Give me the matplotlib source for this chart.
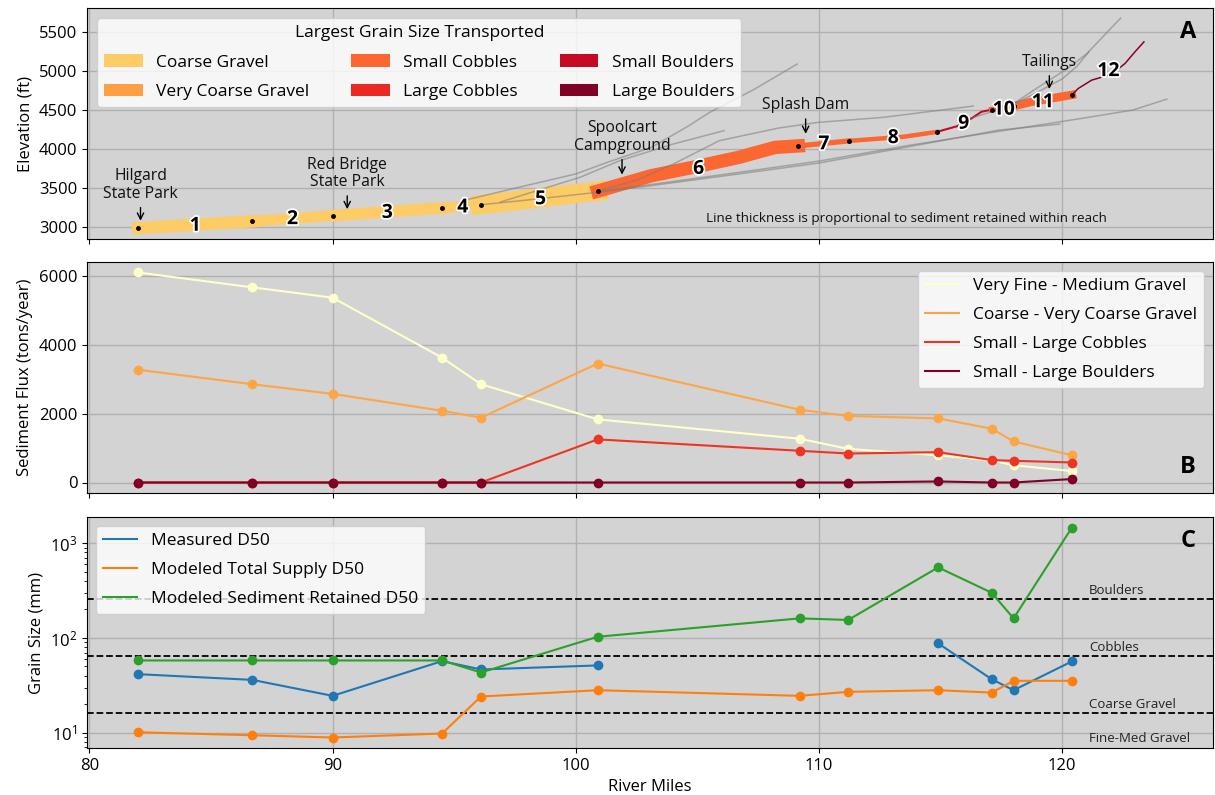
import numpy as np
import matplotlib
matplotlib.use("Agg")
import matplotlib.pyplot as plt
import matplotlib.patheffects as pe
from matplotlib.patches import Patch
from matplotlib.lines import Line2D

plt.rcParams['font.family'] = ['Open Sans', 'DejaVu Sans']
plt.rcParams['font.size'] = 12

# ---- data ----
river_miles = [82.0, 86.7, 90.0, 94.5, 96.1, 100.9, 109.2, 111.2, 114.9, 117.1, 118.0, 120.4]

# panel A: main stem profile
stem_miles = [82.0, 86.7, 90.0, 94.5, 96.1, 100.9, 103.1, 104.8, 106.7, 107.2, 108.2, 109.15,
              111.24, 113.5, 114.85, 115.7, 116.27, 116.68, 117.1, 118.0, 118.74, 120.4,
              120.66, 121.21, 122.03, 122.58, 122.99, 123.36]
stem_elev = [2985, 3073, 3145, 3244, 3285, 3460, 3657, 3764, 3893, 3936, 4021, 4040,
             4104, 4158, 4220, 4295, 4393, 4478, 4506, 4550, 4606, 4695,
             4777, 4884, 4960, 5097, 5247, 5375]
node_miles = [82.0, 86.7, 90.0, 94.5, 96.1, 100.9, 109.15, 111.24, 114.85, 117.1, 118.0, 120.4, 123.36]
node_elev = [2985, 3073, 3145, 3244, 3285, 3460, 4040, 4104, 4220, 4506, 4550, 4695]
reach_class = [0, 0, 0, 0, 0, 2, 2, 2, 4, 2, 2, 5]
reach_retained = [2500, 2200, 2350, 2150, 3900, 2700, 1050, 900, 420, 1150, 1700, 300]
label_miles = [84.35, 88.35, 92.25, 95.35, 98.55, 105.05, 110.2, 113.05, 115.95, 117.6, 119.2, 121.9]
label_elev = [3015, 3100, 3180, 3250, 3355, 3745, 4060, 4140, 4325, 4505, 4600, 5000]

grain_classes = ['Coarse Gravel', 'Very Coarse Gravel', 'Small Cobbles',
                 'Large Cobbles', 'Small Boulders', 'Large Boulders']
grain_colors = ['#fecc66', '#fd9f42', '#fc6731', '#ea2a22', '#c50a26', '#800026']

tributaries = [
    ([95.6, 97.6, 100.0, 101.3, 103.1, 104.6, 105.5, 107.3, 109.1],
     [3355, 3505, 3680, 3830, 4020, 4290, 4470, 4760, 5090]),
    ([96.9, 100.2, 101.8, 104.0, 106.1],
     [3320, 3640, 3850, 4064, 4236]),
    ([100.9, 102.5, 104.0, 105.9, 108.35, 110.0, 112.6, 116.34],
     [3460, 3600, 3806, 4107, 4270, 4343, 4405, 4551]),
    ([96.1, 98.0, 100.9, 103.1, 106.7, 110.0, 113.7, 117.4, 119.9],
     [3285, 3345, 3445, 3530, 3680, 3820, 4030, 4243, 4320]),
    ([100.9, 103.1, 106.7, 110.0, 113.7, 120.8, 122.9, 124.3],
     [3455, 3545, 3700, 3845, 4047, 4393, 4500, 4640]),
    ([116.3, 117.9, 118.9, 120.2, 121.0, 122.4],
     [4400, 4560, 4770, 5030, 5220, 5680]),
    ([117.6, 118.8, 120.0, 120.6, 121.1],
     [4510, 4700, 4900, 5060, 5250]),
]

# panel B: sediment flux (tons/year)
flux_fine = [6090, 5660, 5360, 3620, 2850, 1830, 1270, 975, 790, 640, 500, 330]
flux_gravel = [3270, 2850, 2570, 2080, 1880, 3450, 2110, 1930, 1860, 1560, 1190, 790]
flux_cobble = [0, 0, 0, 0, 0, 1250, 920, 840, 880, 650, 630, 580]
flux_boulder = [0, 0, 0, 0, 0, 0, 0, 0, 30, 0, 0, 100]
flux_labels = ['Very Fine - Medium Gravel', 'Coarse - Very Coarse Gravel',
               'Small - Large Cobbles', 'Small - Large Boulders']
flux_colors = ['#ffffcc', '#fea546', '#ee3524', '#800026']

# panel C: grain size D50 (mm)
d50_measured = [41.5, 36.1, 24.5, 57.0, 46.5, 51.3, np.nan, np.nan, 87.7, 36.7, 28.1, 56.6]
d50_supply = [10.1, 9.4, 8.9, 9.8, 24.1, 28.1, 24.5, 27.0, 28.1, 26.5, 35.3, 35.3]
d50_retained = [57.9, 57.9, 57.9, 57.9, 43.2, 103, 161, 155, 556, 300, 161, 1466]
d50_labels = ['Measured D50', 'Modeled Total Supply D50', 'Modeled Sediment Retained D50']
d50_colors = ['tab:blue', 'tab:orange', 'tab:green']
thresholds = [256, 64, 16]
threshold_labels = ['Boulders', 'Cobbles', 'Coarse Gravel']

# ---- figure ----
fig = plt.figure(figsize=(12.15, 7.95), dpi=100)
W, H = 1215, 795
def box(top, bottom, left=87, right=1213):
    return [left / W, 1 - bottom / H, (right - left) / W, (bottom - top) / H]

axA = fig.add_axes(box(8, 239))
axB = fig.add_axes(box(262, 493), sharex=axA)
axC = fig.add_axes(box(517, 748), sharex=axA)

for ax in (axA, axB, axC):
    ax.set_facecolor('lightgray')
    ax.grid(True, color='#b0b0b0', lw=1)
    ax.set_axisbelow(True)

# Panel A
for tx, ty in tributaries:
    axA.plot(tx, ty, color='#7a7a7a', lw=1.1, alpha=0.55, zorder=3)

sm = np.array(stem_miles)
se = np.array(stem_elev)
for i in range(len(reach_class)):
    m = (sm >= node_miles[i] - 1e-6) & (sm <= node_miles[i + 1] + 1e-6)
    axA.plot(sm[m], se[m], color=grain_colors[reach_class[i]],
             lw=reach_retained[i] / 280, solid_capstyle='projecting', zorder=2)

axA.plot(node_miles[:-1], node_elev, 'o', color='black', ms=2.5, zorder=4)

for i, (lx, ly) in enumerate(zip(label_miles, label_elev)):
    axA.text(lx, ly, str(i + 1), ha='center', va='center', fontsize=14, fontweight='bold',
             zorder=5, path_effects=[pe.withStroke(linewidth=2.5, foreground='white')])

places = [('Hilgard\nState Park', 82.1, 3043, 3320),
          ('Red Bridge\nState Park', 90.6, 3192, 3470),
          ('Spoolcart\nCampground', 101.9, 3635, 3935),
          ('Splash Dam', 109.45, 4158, 4457),
          ('Tailings', 119.47, 4734, 5012)]
for name, px, tip, ty in places:
    axA.annotate(name, xy=(px, tip), xytext=(px, ty), ha='center', va='bottom',
                 fontsize=11.3, linespacing=1.15, color='#111111',
                 arrowprops=dict(arrowstyle='->', color='black', lw=1), zorder=6)

axA.text(113.6, 3110, 'Line thickness is proportional to sediment retained within reach',
         ha='center', va='center', fontsize=9.7, color='#111111')

handles = [Patch(facecolor=c, edgecolor='none', label=l) for c, l in zip(grain_colors, grain_classes)]
axA.legend(handles=handles, ncol=3, loc='upper left',
           title='Largest Grain Size Transported', fontsize=12.5, title_fontsize=12.5,
           handlelength=2.2, columnspacing=2.4, labelspacing=0.75, borderaxespad=0.6)
axA.set_ylim(2845, 5810)
axA.set_yticks([3000, 3500, 4000, 4500, 5000, 5500])
axA.set_ylabel('Elevation (ft)')
axA.text(0.985, 0.95, 'A', transform=axA.transAxes, ha='right', va='top',
         fontsize=17, fontweight='bold')
plt.setp(axA.get_xticklabels(), visible=False)

# Panel B
for vals, col in zip([flux_fine, flux_gravel, flux_cobble, flux_boulder], flux_colors):
    axB.plot(river_miles, vals, 'o-', color=col, ms=6, lw=1.5)
axB.legend(handles=[Line2D([], [], color=c, lw=1.5, label=l) for c, l in zip(flux_colors, flux_labels)],
           loc='upper right', fontsize=12.5, labelspacing=0.75)
axB.set_yticks([0, 2000, 4000, 6000])
axB.set_ylabel('Sediment Flux (tons/year)')
axB.text(0.985, 0.06, 'B', transform=axB.transAxes, ha='right', va='bottom',
         fontsize=17, fontweight='bold')
plt.setp(axB.get_xticklabels(), visible=False)

# Panel C
for vals, col in zip([d50_measured, d50_supply, d50_retained], d50_colors):
    axC.plot(river_miles, vals, 'o-', color=col, ms=6, lw=1.5)
axC.set_yscale('log')
for t in thresholds:
    axC.axhline(t, color='black', ls='--', lw=1.3, zorder=1.5)
for t, lab in zip(thresholds, threshold_labels):
    axC.text(121.1, t * 1.06, lab, fontsize=9.5, color='#222222', va='bottom', ha='left')
axC.text(121.1, 8.6, 'Fine-Med Gravel', fontsize=9.5, color='#222222', va='center', ha='left')
axC.legend(handles=[Line2D([], [], color=c, lw=1.5, label=l) for c, l in zip(d50_colors, d50_labels)],
           loc='upper left', fontsize=12.5, labelspacing=0.75)
axC.set_ylabel('Grain Size (mm)')
axC.set_xlabel('River Miles')
axC.text(0.985, 0.95, 'C', transform=axC.transAxes, ha='right', va='top',
         fontsize=17, fontweight='bold')

axA.set_xlim(79.9, 126.2)
axA.set_xticks([80, 90, 100, 110, 120])

fig.savefig('out.png', dpi=100)
